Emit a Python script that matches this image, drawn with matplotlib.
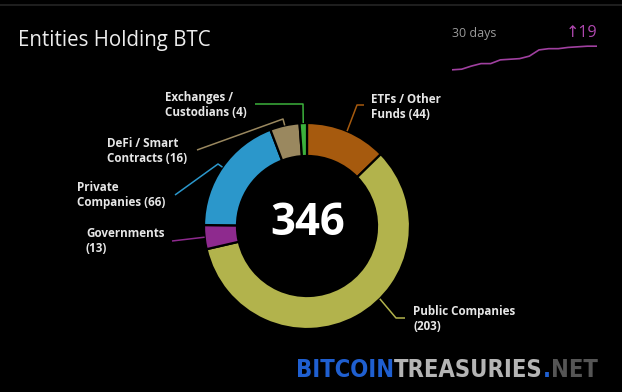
import numpy as np
import matplotlib
matplotlib.use("Agg")
import matplotlib.pyplot as plt
from matplotlib.patches import FancyBboxPatch
from matplotlib import font_manager as fm

# ---- data ----
categories = ["ETFs / Other\nFunds", "Public Companies\n", "Governments\n", "Private\nCompanies",
              "DeFi / Smart\nContracts", "Exchanges /\nCustodians"]
counts = [44, 203, 13, 66, 16, 4]
colors = ["#a65a0e", "#b2b34c", "#8e2a8e", "#2b97cb", "#9a885f", "#3cb13c"]
total_label = "346"
spark_values = [327, 327.5, 330, 332, 332, 335, 335.5, 336, 338, 343, 344, 344, 345, 345.5, 346, 346]
spark_change = "\u219119"
wm_parts = ["BITCOIN", "TREASURIES", ".", "NET"]
wm_colors = ["#1f5fd0", "#b4b4b4", "#1f5fd0", "#555555"]

W, H = 622, 392
fig = plt.figure(figsize=(W / 100, H / 100), dpi=100, facecolor="black")
ax = fig.add_axes([0, 0, 1, 1])
ax.set_facecolor("black")

def Y(y):
    return H - y

# frame
frame = FancyBboxPatch((-30, Y(420)), 30 + 648, 415, boxstyle="round,pad=0,rounding_size=14",
                       facecolor="none", edgecolor="#2c2c2c", linewidth=1.0)
ax.add_patch(frame)

cx, cy, R, ring = 307, Y(226), 103, 33
wedges, _ = ax.pie(counts, colors=colors, startangle=90, counterclock=False,
                   center=(cx, cy), radius=R,
                   wedgeprops=dict(width=ring, edgecolor="black", linewidth=1.6))
ax.set_xlim(0, W)
ax.set_ylim(0, H)
ax.set_aspect("equal")
ax.axis("off")

ax.text(cx + 1, cy + 3, total_label, ha="center", va="center", color="white",
        fontsize=31.5, fontweight="bold", family="Open Sans")

# labels & leader lines (layout)
label_pos = [(371, 93), (413, 305), (86, 227), (77, 181), (107, 137), (165, 91)]
anchor_ang = [None, -45, None, None, None, None]
leader_pts = [[(357, 105), (364, 105)],
              [(396, 318), (405, 318)],
              [(172, 241)],
              [(218, 164), (175, 195)],
              [(283, 119), (197, 150)],
              [(303, 104), (255, 104)]]
for w, cat, n, col, (lx, ly), aa, pts in zip(wedges, categories, counts, colors,
                                              label_pos, anchor_ang, leader_pts):
    ang = np.deg2rad(aa if aa is not None else (w.theta1 + w.theta2) / 2)
    ax0 = cx + R * np.cos(ang)
    ay0 = cy + R * np.sin(ang)
    xs = [ax0] + [p[0] for p in pts]
    ys = [ay0] + [Y(p[1]) for p in pts]
    ax.plot(xs, ys, color=col, lw=1.1, solid_capstyle="butt")
    text = cat.rstrip("\n") + (" " if not cat.endswith("\n") else "\n") + f"({n})"
    ax.text(lx, Y(ly), text, ha="left", va="top", color="#e6e6e6",
            fontsize=8.4, fontweight="bold", family="Open Sans", linespacing=1.22)

# title
ax.text(18, Y(40), "Entities Holding BTC", ha="left", va="center", color="#ececec",
        fontsize=14.8, family="Open Sans")

# sparkline header
ax.text(452, Y(33), "30 days", ha="left", va="center", color="#9a9a9a",
        fontsize=9, family="Open Sans")
ax.text(597, Y(33), spark_change, ha="right", va="center", color="#b048b0",
        fontsize=11.5, family=["Open Sans", "DejaVu Sans"])

sax = fig.add_axes([452 / W, (H - 71) / H, 145 / W, 26 / H])
sax.plot(range(len(spark_values)), spark_values, color="#a040a0", lw=1.2)
sax.set_xlim(0, len(spark_values) - 1)
sax.margins(x=0, y=0.05)
sax.axis("off")

# watermark: pick a condensed/narrow bold face if one is installed
cands = [f for f in fm.fontManager.ttflist
         if ("ondensed" in f.fname or "Narrow" in f.fname or "ondensed" in f.name)
         and ("Bold" in f.fname or f.weight in ("bold", 700))]
if cands:
    wm_prop = dict(fontproperties=fm.FontProperties(fname=sorted(cands, key=lambda f: f.fname)[0].fname))
else:
    wm_prop = dict(family="Roboto", fontweight="bold")

size0 = 25
texts = []
prev = None
for part, col in zip(wm_parts, wm_colors):
    if prev is None:
        t = ax.text(296, Y(377), part, ha="left", va="baseline", color=col, **wm_prop)
    else:
        t = ax.annotate(part, xy=(1, 0), xycoords=prev, ha="left", va="bottom", color=col, **wm_prop)
    t.set_fontsize(size0)
    texts.append(t)
    prev = t

fig.canvas.draw()
r = fig.canvas.get_renderer()
x0 = texts[0].get_window_extent(r).x0
x1 = texts[-1].get_window_extent(r).x1
scale = 301.0 / (x1 - x0)
for t in texts:
    t.set_fontsize(size0 * scale)

fig.savefig("out.png", dpi=100, facecolor="black")
